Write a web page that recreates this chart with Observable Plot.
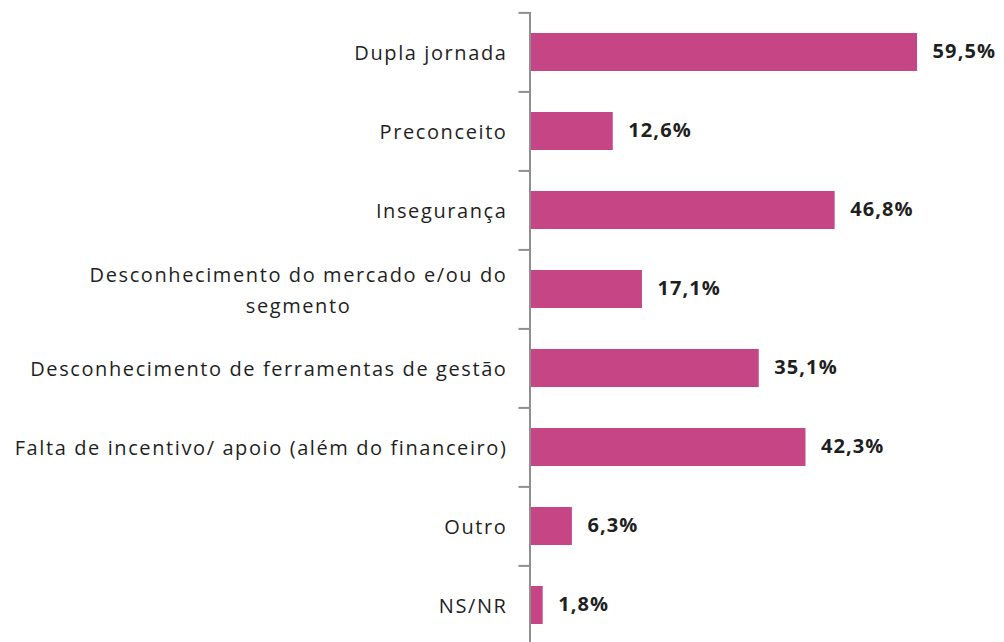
<!DOCTYPE html>
<html><head><meta charset="utf-8">
<script src="https://cdn.jsdelivr.net/npm/d3@7"></script>
<script src="https://cdn.jsdelivr.net/npm/@observablehq/plot@0.6"></script>
<style>
body{margin:0;background:#fff;}
#chart svg{display:block;}
.cat-labels text{letter-spacing:1.6px;}
.val-labels text{letter-spacing:1.1px;}
</style>
</head><body><div id="chart"></div>
<script>
const categories = [
  "Dupla jornada",
  "Preconceito",
  "Insegurança",
  "Desconhecimento do mercado e/ou do\nsegmento",
  "Desconhecimento de ferramentas de gestão",
  "Falta de incentivo/ apoio (além do financeiro)",
  "Outro",
  "NS/NR"
];
const values = [59.5, 12.6, 46.8, 17.1, 35.1, 42.3, 6.3, 1.8];
const valueLabels = ["59,5%", "12,6%", "46,8%", "17,1%", "35,1%", "42,3%", "6,3%", "1,8%"];

const data = categories.map((c, i) => ({cat: c, value: values[i], label: valueLabels[i]}));

const step = (645.6 - 12) / categories.length;

const chart = Plot.plot({
  width: 1004,
  height: 642,
  marginLeft: 531,
  marginRight: 0,
  marginTop: 12,
  marginBottom: 0,
  style: {fontFamily: "'Open Sans', sans-serif", color: "#1f1f1f", background: "#fff"},
  x: {domain: [0, 72.9], axis: null},
  y: {domain: categories, range: [12, 645.6], paddingInner: 0.52, paddingOuter: 0.26, axis: null},
  marks: [
    Plot.barX(data, {x: "value", y: "cat", fill: "#C64584"}),
    Plot.ruleX([0], {stroke: "#8f8f8f", strokeWidth: 2, dx: -1.5}),
    Plot.ruleY(categories, {y: d => d, x1: -1.7, x2: 0, dx: -1.5, dy: -step / 2, stroke: "#8f8f8f", strokeWidth: 2}),
    Plot.text(data, {x: "value", y: "cat", text: "label", textAnchor: "start", dx: 15, dy: -1, fontWeight: "bold", fontSize: 20, fill: "#1f1f1f", className: "val-labels"}),
    Plot.text(data, {x: 0, y: "cat", text: "cat", textAnchor: "end", dx: -24, dy: -2, fontSize: 20, lineHeight: 1.55, fill: "#1f1f1f", className: "cat-labels"})
  ]
});
document.getElementById("chart").appendChild(chart);

// centre the lines of a wrapped category label, as in the original
chart.querySelectorAll("text").forEach(t => {
  const ts = t.querySelectorAll("tspan");
  if (ts.length > 1) {
    const bb = t.getBBox();
    const cx = bb.x + bb.width / 2;
    t.setAttribute("text-anchor", "middle");
    ts.forEach(s => s.setAttribute("x", cx));
  }
});
</script>
</body></html>
